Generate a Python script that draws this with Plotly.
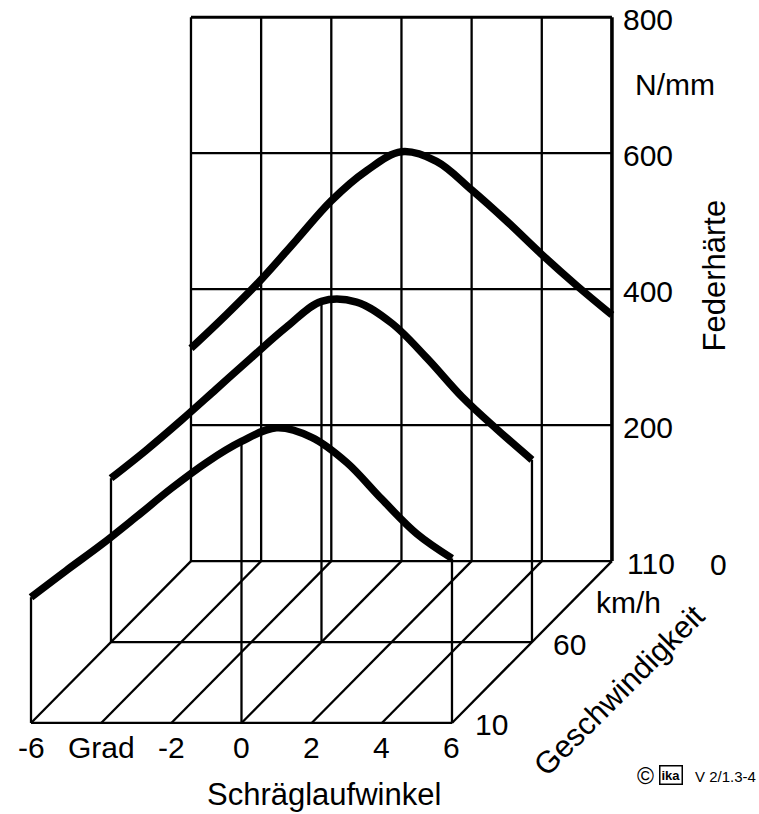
import plotly.graph_objects as go

# Schräglaufwinkel in Grad
angles = [-6, -5, -4, -3, -2, -1, 0, 1, 2, 3, 4, 5, 6]
# Federhärte in N/mm je Geschwindigkeit
rate_10 = [185, 224, 262, 303, 345, 383, 414, 434, 420, 383, 329, 278, 242]
rate_60 = [241, 282, 326, 372, 418, 463, 501, 500, 469, 418, 361, 313, 268]
rate_110 = [313, 362, 414, 472, 530, 574, 602, 588, 546, 500, 451, 405, 362]
speeds = [10, 60, 110]

angle_ticks = [-6, -4, -2, 0, 2, 4, 6]
angle_tick_labels = ["-6", "Grad", "-2", "0", "2", "4", "6"]
rate_ticks = [0, 200, 400, 600, 800]
rate_tick_labels = ["0", "200", "400", "600", "800"]
speed_ticks = [10, 60, 110]
speed_tick_labels = ["10", "60", "110"]

# oblique (cavalier) projection: each km/h moves the plane right and up
SHIFT_X = 0.0456   # degrees per km/h
SHIFT_Y = 2.38     # N/mm per km/h
S0 = speeds[0]


def proj(a, v, s):
    return a + (s - S0) * SHIFT_X, v + (s - S0) * SHIFT_Y


def segments(pts_list):
    xs, ys = [], []
    for pts in pts_list:
        for a, v, s in pts:
            x, y = proj(a, v, s)
            xs.append(x)
            ys.append(y)
        xs.append(None)
        ys.append(None)
    return xs, ys


def line_trace(pts_list, width, shape="linear"):
    xs, ys = segments(pts_list)
    return go.Scatter(x=xs, y=ys, mode="lines", hoverinfo="skip",
                      line=dict(color="black", width=width, shape=shape, smoothing=1.0))


a_min, a_max = angle_ticks[0], angle_ticks[-1]
r_max = rate_ticks[-1]
s_back = speeds[-1]

fig = go.Figure()

# back wall grid (110 km/h)
grid = []
for a in angle_ticks[:-1]:
    grid.append([(a, 0, s_back), (a, r_max, s_back)])
for r in rate_ticks[:-1]:
    grid.append([(a_min, r, s_back), (a_max, r, s_back)])
fig.add_trace(line_trace(grid, 2.3))
fig.add_trace(line_trace([[(a_min, r_max, s_back), (a_max, r_max, s_back)]], 3))
fig.add_trace(line_trace([[(a_max, 0, s_back), (a_max, r_max, s_back)]], 3.6))

# floor: depth lines and baselines of the front planes
floor = [[(a, 0, speeds[0]), (a, 0, s_back)] for a in angle_ticks]
for s in speeds[:-1]:
    floor.append([(a_min, 0, s), (a_max, 0, s)])
fig.add_trace(line_trace(floor, 2.3))

# drop lines below the curves of the two front planes
i0 = angles.index(0)
drops = []
for s, rates in zip(speeds[:-1], [rate_10, rate_60]):
    drops.append([(a_min, 0, s), (a_min, rates[0], s)])
    drops.append([(0, 0, s), (0, rates[i0], s)])
    drops.append([(a_max, 0, s), (a_max, rates[-1], s)])
fig.add_trace(line_trace(drops, 2.3))

# the three curves
for s, rates in zip(speeds, [rate_10, rate_60, rate_110]):
    fig.add_trace(line_trace([[(a, r, s) for a, r in zip(angles, rates)]], 7.5, "spline"))

FONT = "Liberation Sans, Arial, Helvetica, sans-serif"


def label(text, a, v, s, size=30, **kw):
    x, y = proj(a, v, s)
    return dict(x=x, y=y, xref="x", yref="y", text=text, showarrow=False,
                font=dict(family=FONT, size=size, color="black"), **kw)


ann = []
# Federhärte scale on the right edge of the back wall
for r, t in zip(rate_ticks[1:], rate_tick_labels[1:]):
    ann.append(label(t, a_max, r, s_back, xanchor="left", yanchor="middle", xshift=9, yshift=-2))
ann.append(label(rate_tick_labels[0], a_max, 0, s_back, xanchor="center", yanchor="middle",
                 xshift=107, yshift=-3))
ann.append(label("N/mm", a_max, 700, s_back, xanchor="left", yanchor="middle", xshift=21, yshift=1))
ann.append(label("Federhärte", a_max, 420, s_back, xanchor="center", yanchor="middle",
                 xshift=103, textangle=-90, size=31))

# Geschwindigkeit scale along the right floor edge
for s, t in zip(speed_ticks, speed_tick_labels):
    sh = {10: 21, 60: 19, 110: 13}[s]
    ann.append(label(t, a_max, 0, s, xanchor="left", yanchor="middle", xshift=sh, yshift=-2))
ann.append(label("km/h", a_max, 0, 85, xanchor="left", yanchor="middle", xshift=22, yshift=-1))
ann.append(label("Geschwindigkeit", a_max, 0, 60, xanchor="center", yanchor="middle",
                 xshift=87, yshift=-48, textangle=-45, size=31))

# Schräglaufwinkel scale under the front plane
for a, t in zip(angle_ticks, angle_tick_labels):
    ann.append(label(t, a, 0, speeds[0], xanchor="center", yanchor="middle", yshift=-25))
ann.append(label("Schräglaufwinkel", 0, 0, speeds[0], xanchor="center", yanchor="middle",
                 xshift=83, yshift=-72, size=31))

# source note
W, H = 759, 814
ann.append(dict(x=645 / W, y=1 - 776 / H, xref="paper", yref="paper", text="©",
                showarrow=False, font=dict(family=FONT, size=23, color="black"),
                xanchor="center", yanchor="middle"))
ann.append(dict(x=671 / W, y=1 - 775 / H, xref="paper", yref="paper", text="<b>ika</b>",
                showarrow=False, font=dict(family=FONT, size=13, color="black"),
                xanchor="center", yanchor="middle", bordercolor="black", borderwidth=1.5,
                borderpad=1))
ann.append(dict(x=693 / W, y=1 - 776 / H, xref="paper", yref="paper", text="V 2/1.3-4",
                showarrow=False, font=dict(family=FONT, size=15, color="black"),
                xanchor="left", yanchor="middle"))

fig.update_layout(
    width=W, height=H,
    margin=dict(l=0, r=0, t=0, b=0),
    paper_bgcolor="white", plot_bgcolor="white",
    showlegend=False,
    xaxis=dict(range=[-6.884, 14.752], visible=False, fixedrange=True),
    yaxis=dict(range=[-133.9, 1063.2], visible=False, fixedrange=True),
    annotations=ann,
)

fig.write_html("out.html")
